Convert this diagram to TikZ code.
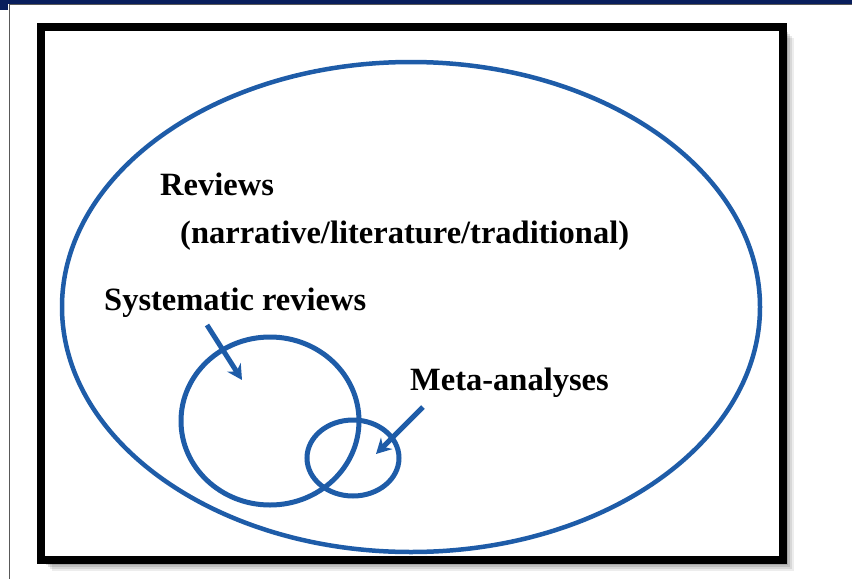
\documentclass[tikz,border=0pt]{standalone}
\usepackage{fontspec}
\setmainfont{Liberation Serif}
\usetikzlibrary{shapes.geometric,arrows.meta}
\definecolor{setblue}{RGB}{30,92,168}
\definecolor{barnavy}{RGB}{8,30,92}
\begin{document}
\begin{tikzpicture}[x=1pt,y=-1pt,
    every node/.style={inner sep=0pt},
    set/.style={ellipse,draw=setblue,line width=5pt},
    lbl/.style={anchor=base west,font=\bfseries\fontsize{32.5}{36}\selectfont},
    pointer/.style={draw=setblue,line width=5pt,-{Stealth[length=15pt,width=16pt]}}]
    \useasboundingbox (0,0) rectangle (852,579);
    % slide frame
    \fill[barnavy] (0,0) rectangle (852,4);
    \fill[barnavy] (0,0) rectangle (8,10);
    \draw[gray!70!black,line width=0.8pt] (9,4.4) -- (852,4.4);
    \draw[gray!70!black,line width=0.8pt] (9,4.4) -- (9,579);
    % box with shadow
    \foreach \d/\o in {11/0.07,9/0.09,7/0.11,5/0.13,3/0.15} {
        \fill[black,opacity=\o] (41+\d,27+\d) rectangle (783+\d,560+\d);
    }
    \fill[white] (41,27) rectangle (783,560);
    \draw[black,line width=8pt] (41,27) rectangle (783,560);
    % sets
    \node[set,line width=4.5pt,minimum width=698pt,minimum height=490pt] (rev) at (411,307) {};
    \node[set,minimum width=178pt,minimum height=168pt] (sys) at (270,421) {};
    \node[set,minimum width=92pt,minimum height=76pt] (meta) at (353,458) {};
    % labels
    \node[lbl] (revlbl) at (160,195) {Reviews};
    \node[lbl] (revsub) at (180,243) {(narrative/literature/traditional)};
    \node[lbl] (syslbl) at (104,310) {Systematic reviews};
    \node[lbl] (metalbl) at (410,390) {Meta-analyses};
    % pointers
    \coordinate (systail) at (207,325);
    \coordinate (systip) at (242,380);
    \coordinate (metatail) at (423,407);
    \coordinate (metatip) at (376,454);
    \draw[pointer] (systail) -- (systip);
    \draw[pointer] (metatail) -- (metatip);
\end{tikzpicture}
\end{document}
